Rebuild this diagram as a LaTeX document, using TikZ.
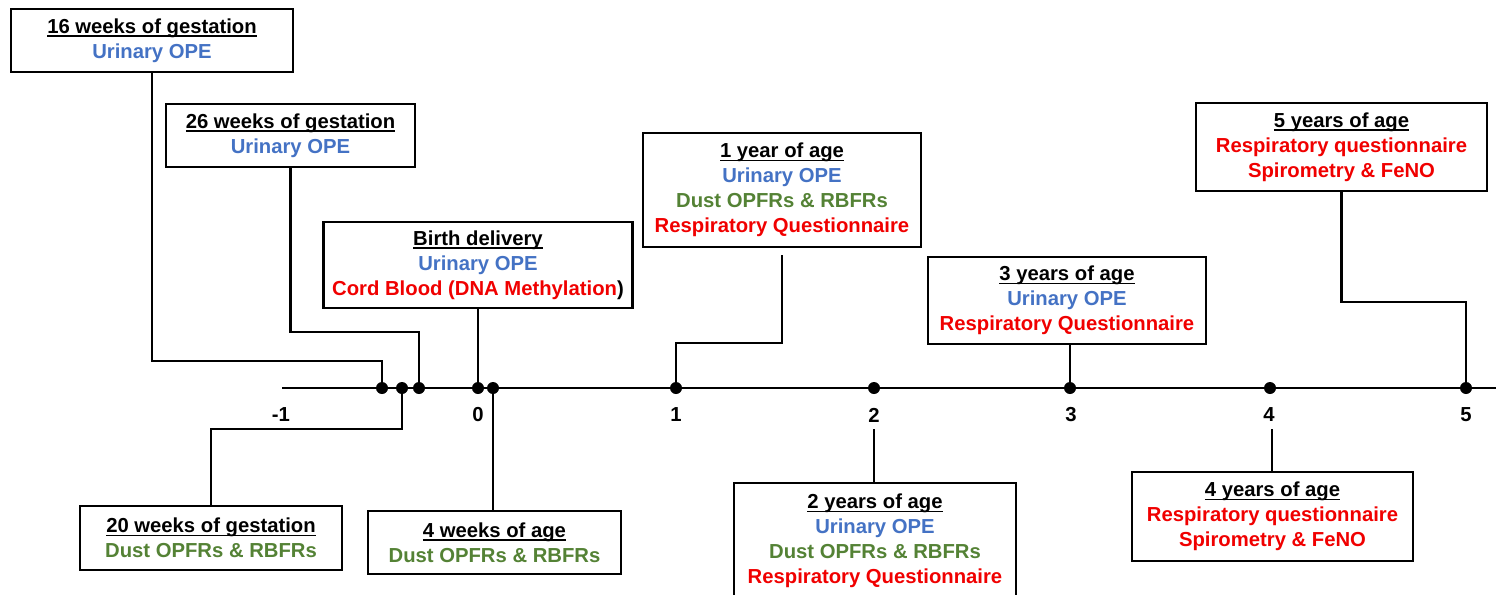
\documentclass[tikz,border=0pt]{standalone}
\usepackage{fontspec}
\setmainfont{Liberation Sans}
\definecolor{ublue}{RGB}{68,114,196}
\definecolor{dgreen}{RGB}{84,130,53}
\definecolor{rred}{RGB}{240,0,0}
\newcommand{\hdr}[1]{\setbox0\hbox{#1}\rlap{\rule[-2.6pt]{\wd0}{1.1pt}}\box0}
\begin{document}
\begin{tikzpicture}[x=0.75pt,y=-0.75pt,
  box/.style={draw=black,line width=1.7pt,align=center,inner sep=0pt,
    font=\fontsize{15.2}{18.75}\selectfont\bfseries},
  bsize/.style 2 args={minimum width=#1*0.75pt,minimum height=#2*0.75pt},
  conn/.style={line width=1.9pt},
  dot/.style={circle,fill=black,inner sep=0pt,minimum size=9pt},
  lab/.style={font=\fontsize{15.2}{18}\selectfont\bfseries}]
\useasboundingbox (0,0) rectangle (1496,594);

% axis
\coordinate (axs) at (282,388);
\coordinate (axe) at (1500,388);
\draw[conn] (axs) -- (axe);

% dots
\node[dot] (d16) at (382,388) {};
\node[dot] (d20) at (402,388) {};
\node[dot] (d26) at (419,388) {};
\node[dot] (d0)  at (478,388) {};
\node[dot] (d4w) at (493,388) {};
\node[dot] (d1)  at (676,388) {};
\node[dot] (d2)  at (874,388) {};
\node[dot] (d3)  at (1070,388) {};
\node[dot] (d4)  at (1270,388) {};
\node[dot] (d5)  at (1466,388) {};

% axis labels
\node[lab] (lm1) at (281,415) {-1};
\node[lab] (l0) at (478,415) {0};
\node[lab] (l1) at (676,415) {1};
\node[lab] (l2) at (874,415) {2};
\node[lab] (l3) at (1071,415) {3};
\node[lab] (l4) at (1269,415) {4};
\node[lab] (l5) at (1466,415) {5};

% boxes
\node[box,bsize={282}{63}] (b16) at (152,40.5)
  {\hdr{16 weeks of gestation}\\ \textcolor{ublue}{Urinary OPE}};
\node[box,bsize={249}{63}] (b26) at (290.5,135.5)
  {\hdr{26 weeks of gestation}\\ \textcolor{ublue}{Urinary OPE}};
\node[box,bsize={309}{86}] (bb) at (478,265)
  {\hdr{Birth delivery}\\ \textcolor{ublue}{Urinary OPE}\\ \textcolor{rred}{Cord Blood (DNA Methylation})};
\node[box,bsize={278}{114}] (b1) at (782,190)
  {\hdr{1 year of age}\\ \textcolor{ublue}{Urinary OPE}\\ \textcolor{dgreen}{Dust OPFRs \& RBFRs}\\ \textcolor{rred}{Respiratory Questionnaire}};
\node[box,bsize={278}{87}] (b3) at (1067,300.5)
  {\hdr{3 years of age}\\ \textcolor{ublue}{Urinary OPE}\\ \textcolor{rred}{Respiratory Questionnaire}};
\node[box,bsize={291}{88}] (b5) at (1341.5,147)
  {\hdr{5 years of age}\\ \textcolor{rred}{Respiratory questionnaire}\\ \textcolor{rred}{Spirometry \& FeNO}};
\node[box,bsize={262}{64}] (b20) at (211,538)
  {\hdr{20 weeks of gestation}\\ \textcolor{dgreen}{Dust OPFRs \& RBFRs}};
\node[box,bsize={253}{63}] (b4w) at (494.5,542.5)
  {\hdr{4 weeks of age}\\ \textcolor{dgreen}{Dust OPFRs \& RBFRs}};
\node[box,bsize={282}{116}] (b2) at (875,541)
  {\hdr{2 years of age}\\ \textcolor{ublue}{Urinary OPE}\\ \textcolor{dgreen}{Dust OPFRs \& RBFRs}\\ \textcolor{rred}{Respiratory Questionnaire}};
\node[box,bsize={281}{89}] (b4) at (1272.5,516.5)
  {\hdr{4 years of age}\\ \textcolor{rred}{Respiratory questionnaire}\\ \textcolor{rred}{Spirometry \& FeNO}};

% corner / free-end coordinates
\coordinate (c16) at (382,361);
\coordinate (c26) at (419,332);
\coordinate (c1) at (676,343);
\coordinate (c5) at (1466,302);
\coordinate (c20) at (211,429);
\coordinate (s2) at (874,429);
\coordinate (s4) at (1272,429);

% connectors
\draw[conn] (b16.south) |- (c16) -- (d16);
\draw[conn] (b26.south) |- (c26) -- (d26);
\draw[conn] (bb.south) -- (d0);
\draw[conn,shorten <=5.5pt] (b1.south) |- (c1) -- (d1);
\draw[conn] (d3 |- b3.south) -- (d3);
\draw[conn] (b5.south) |- (c5) -- (d5);
\draw[conn] (d20) |- (c20) -- (b20.north);
\draw[conn] (d4w) -- (d4w |- b4w.north);
\draw[conn] (s2) -- (s2 |- b2.north);
\draw[conn] (s4) -- (s4 |- b4.north);
\end{tikzpicture}
\end{document}
